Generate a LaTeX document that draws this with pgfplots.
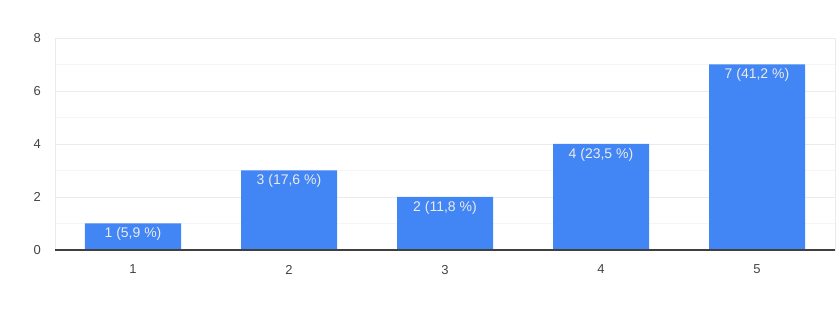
\documentclass[border=0pt]{standalone}
\usepackage{pgfplots}
\pgfplotsset{compat=1.18}
\usepackage{fontspec}
\setmainfont{Liberation Sans}
\definecolor{barblue}{HTML}{4285F4}
\definecolor{gridc}{HTML}{EBEBEB}
\definecolor{minorc}{HTML}{F5F5F5}
\definecolor{tickc}{HTML}{444444}
\begin{document}
\begin{tikzpicture}
\begin{axis}[
  name=ax,
  at={(0pt,0pt)}, anchor=south west,
  scale only axis, width=780pt, height=212pt,
  xmin=0.5, xmax=5.5, ymin=0, ymax=8,
  xtick={1,2,3,4,5}, ytick={0,2,4,6,8},
  minor ytick={1,3,5,7},
  ymajorgrids, yminorgrids,
  major grid style={gridc, line width=0.8pt},
  minor grid style={minorc, line width=0.8pt},
  axis line style={gridc, line width=0.8pt},
  tick style={draw=none},
  tick label style={font=\fontsize{13}{15}\selectfont, text=tickc, inner sep=0pt},
  /pgf/number format/assume math mode=true,
  yticklabel style={anchor=east, xshift=-14pt},
  xticklabel style={anchor=north, yshift=-10.5pt},
  ybar, bar width=96pt,
  nodes near coords,
  point meta=explicit symbolic,
  every node near coord/.style={anchor=north, inner sep=0pt, yshift=-4pt, font=\fontsize{14}{16}\selectfont, text=white!92!black},
  clip=false,
]
\addplot[fill=barblue, draw=none] coordinates {
  (1,1) [1 (5,9 \%)]
  (2,3) [3 (17,6 \%)]
  (3,2) [2 (11,8 \%)]
  (4,4) [4 (23,5 \%)]
  (5,7) [7 (41,2 \%)]
};
\draw[color=black!75, line width=1.2pt] (rel axis cs:0,0) -- (rel axis cs:1,0);
\end{axis}
\pgfresetboundingbox
\useasboundingbox (-55pt,-63pt) rectangle (783pt,250pt);
\end{tikzpicture}
\end{document}
